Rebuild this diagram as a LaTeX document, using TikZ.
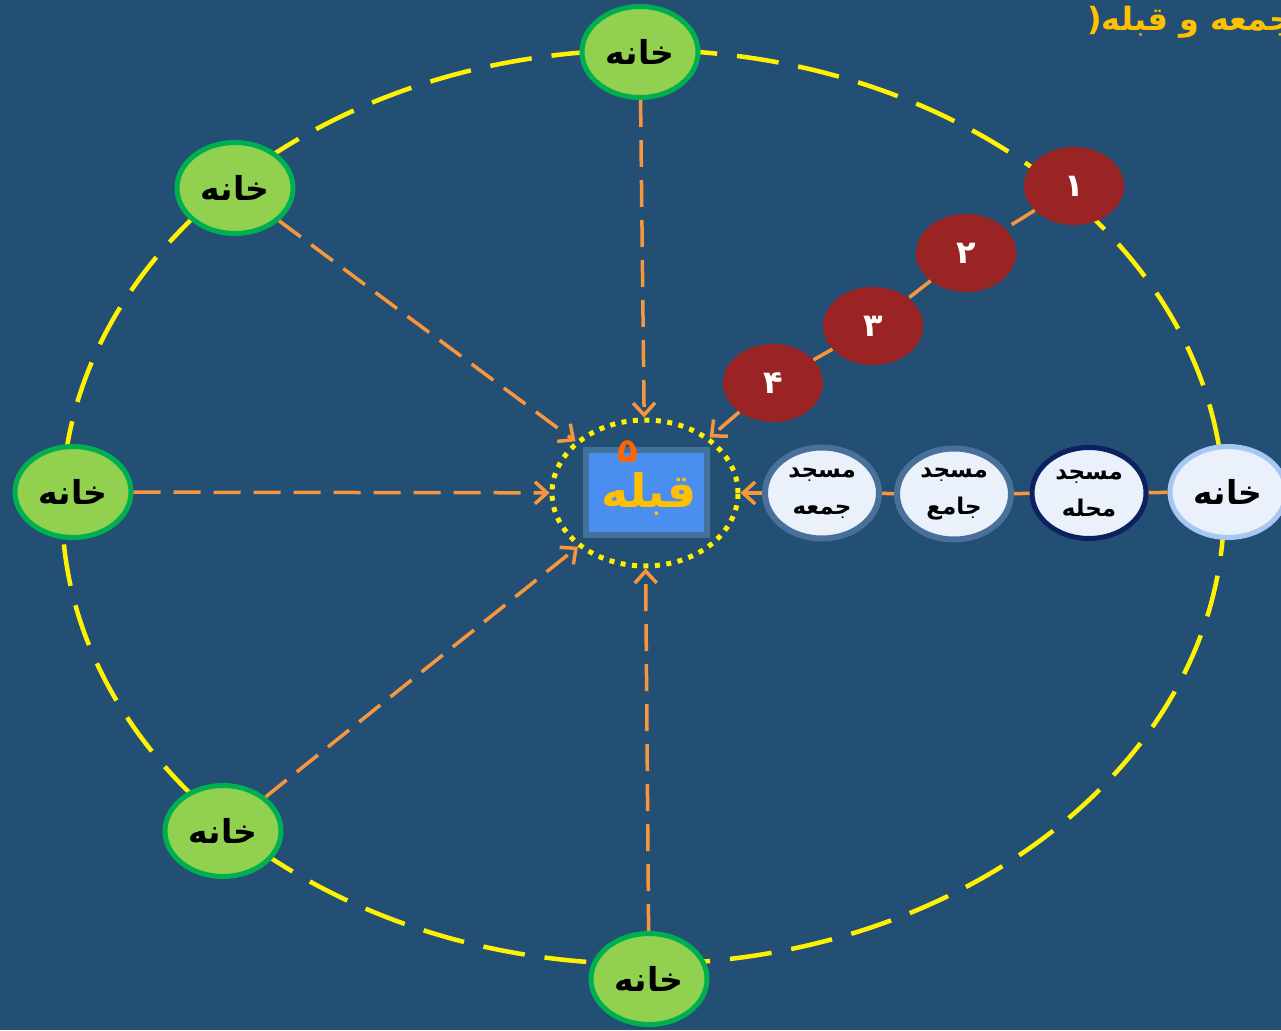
\documentclass[tikz,border=0pt]{standalone}
\usepackage{fontspec}
\TeXXeTstate=1
\newfontfamily\ar[Script=Arabic]{DejaVu Sans}
\usetikzlibrary{shapes.geometric,arrows.meta}
\definecolor{bg}{HTML}{244F74}
\definecolor{homefill}{HTML}{92D050}
\definecolor{homeline}{HTML}{00B050}
\definecolor{palefill}{HTML}{EAF1FB}
\definecolor{paleline}{HTML}{A8C8F4}
\definecolor{steelline}{HTML}{48709A}
\definecolor{navyline}{HTML}{0C2260}
\definecolor{redc}{HTML}{9A2424}
\definecolor{orangec}{HTML}{F7963C}
\definecolor{goldc}{HTML}{FFC000}
\definecolor{boxfill}{HTML}{4A8FEF}
\definecolor{boxline}{HTML}{44719C}
\definecolor{fivec}{HTML}{FF6600}
\tikzset{
  home/.style={ellipse, draw=homeline, fill=homefill, line width=5pt,
    minimum width=116pt, minimum height=91pt, inner sep=0pt,
    font=\ar\bfseries\fontsize{33}{34}\selectfont},
  mosque/.style={ellipse, fill=palefill, line width=6pt,
    minimum width=114pt, minimum height=91pt, inner sep=0pt, align=center,
    font=\ar\bfseries\fontsize{23}{37}\selectfont},
  rednode/.style={ellipse, fill=redc, minimum width=100pt, minimum height=78pt,
    inner sep=0pt, text=white, font=\ar\bfseries\fontsize{32}{34}\selectfont},
  link/.style={draw=orangec, line width=3.5pt, dash pattern=on 27pt off 13pt},
  arr/.style={link, -{Straight Barb[length=12pt,width=22pt]}},
}
\begin{document}
\begin{tikzpicture}[x=1pt,y=-1pt]
\fill[bg] (0,0) rectangle (1281,1030);
\useasboundingbox (0,0) rectangle (1281,1030);
\clip (0,0) rectangle (1281,1030);

% big dashed ellipse
\draw[yellow, line width=4.5pt, dash pattern=on 42pt off 20pt]
  (643,507) ellipse [x radius=581pt, y radius=457pt];

% title (cut off at the right edge, as in the reference)
\node[anchor=west, inner sep=0pt, text=goldc, font=\ar\bfseries\fontsize{32}{36}\selectfont]
  (title) at (1087,22) {(\beginR جمعه و قبله\endR};

% centre box and ring
\node[rectangle, fill=boxfill, draw=boxline, line width=6pt,
  minimum width=121pt, minimum height=85pt, inner sep=0pt] (qbox) at (646.5,492.5) {};
\node[text=goldc, inner sep=0pt, font=\ar\bfseries\fontsize{46}{50}\selectfont]
  (qtext) at (649,494) {\beginR قبله\endR};
\node[text=fivec, inner sep=0pt, font=\ar\bfseries\fontsize{34}{36}\selectfont]
  (five) at (628,452) {۵};
\node[ellipse, draw=yellow, line width=5pt, dash pattern=on 5pt off 6.5pt,
  minimum width=186pt, minimum height=146pt, inner sep=0pt] (ring) at (645,493) {};

% homes
\node[home] (hT)  at (640,52)  {\beginR خانه\endR};
\node[home] (hUL) at (235,188) {\beginR خانه\endR};
\node[home] (hL)  at (73,492)  {\beginR خانه\endR};
\node[home] (hBL) at (223,831) {\beginR خانه\endR};
\node[home] (hB)  at (649,979) {\beginR خانه\endR};
\node[home, draw=paleline, fill=palefill] (hR) at (1228,492) {\beginR خانه\endR};

% mosques
\node[mosque, draw=steelline] (mJo) at (822,493) {\beginR مسجد\endR\\\beginR جمعه\endR};
\node[mosque, draw=steelline] (mJa) at (954,494) {\beginR مسجد\endR\\\beginR جامع\endR};
\node[mosque, draw=navyline, line width=5pt] (mMa) at (1089,493) {\beginR مسجد\endR\\\beginR محله\endR};

% red steps
\node[rednode] (n1) at (1074,186) {۱};
\node[rednode] (n2) at (966,253)  {۲};
\node[rednode] (n3) at (873,326)  {۳};
\node[rednode] (n4) at (773,383)  {۴};

% connectors
\draw[arr] (hT) -- (ring);
\draw[arr] (hUL) -- (ring);
\draw[arr] (hL) -- (ring);
\draw[arr] (hBL) -- (ring);
\draw[arr] (hB) -- (ring);

\draw[link] (hR) -- (mMa);
\draw[link] (mMa) -- (mJa);
\draw[link] (mJa) -- (mJo);
\draw[arr] (mJo) -- (ring);

\draw[link] (n1) -- (n2);
\draw[link] (n2) -- (n3);
\draw[link] (n3) -- (n4);
\draw[arr] (n4) -- (ring);
\end{tikzpicture}
\end{document}
